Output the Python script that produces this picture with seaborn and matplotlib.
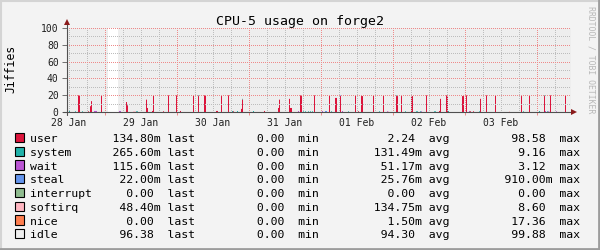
import numpy as np
import pandas as pd
import matplotlib
matplotlib.use("Agg")
import matplotlib.pyplot as plt
import seaborn as sns
from matplotlib.patches import Rectangle
from matplotlib.lines import Line2D

title = "CPU-5 usage on forge2"
y_label = "Jiffies"
watermark = "RRDTOOL / TOBI OETIKER"

series = ["user", "system", "wait", "steal", "interrupt", "softirq", "nice", "idle"]
series_colors = ["#DC143C", "#20B2AA", "#BA55D3", "#6495ED", "#8FBC8F",
                 "#FFB6C1", "#FF7F50", "#EEEEEE"]

day_hours = [0, 24, 48, 72, 96, 120, 144]
day_labels = ["28 Jan", "29 Jan", "30 Jan", "31 Jan", "01 Feb", "02 Feb", "03 Feb"]
y_ticks = [0, 20, 40, 60, 80, 100]

# spike times: hours after 28 Jan 00:00 ; values: jiffies
user_t = [3.10, 3.43, 6.43, 7.10, 7.43, 10.77, 19.10, 19.43, 25.77, 26.10,
          27.77, 28.10, 31.43, 33.10, 35.77, 37.10, 41.43, 43.10, 45.10, 45.43,
          49.10, 49.43, 50.77, 53.10, 54.77, 57.43, 57.77, 65.10, 69.77, 70.10,
          73.43, 73.77, 74.10, 77.10, 77.43, 81.77, 86.77, 88.77, 89.10,
          90.43, 95.43, 96.43, 97.43, 97.77, 101.43, 104.77, 109.10, 109.43, 110.77, 114.10,
          114.43, 119.10, 123.43, 123.77, 125.77, 126.10, 131.10, 131.43, 132.43, 133.77,
          134.77, 137.10, 139.10, 142.10, 150.77, 153.43, 158.43, 160.43, 165.43]
user_v = [20, 20, 1, 7, 13, 20, 12, 8, 15, 5,
          1.5, 20, 1, 20, 20, 1.5, 20, 19, 20, 20,
          1.5, 1.5, 19, 20, 1, 4, 15, 1.5, 5, 15,
          16, 5, 5, 20, 20, 20, 20, 17, 17,
          19, 20, 1, 19, 19, 20, 20, 19, 19, 19, 19,
          19, 20, 1.5, 16, 20, 20, 19, 19, 20, 1,
          1, 16, 20, 20, 19, 20, 19, 20, 20]

system_t = [0.10, 2.10, 4.43, 19.43, 22.43, 22.77, 43.10, 50.77, 54.43, 56.10,
            57.77, 61.43, 78.10, 78.77, 79.77, 80.43, 81.10, 87.43, 93.10, 97.43,
            103.43, 109.10, 112.10, 115.77, 116.10, 117.10, 121.77, 122.10, 126.43, 136.77,
            150.77, 151.43, 156.77, 158.43, 159.43]
system_v = [1.2, 1, 1, 1, 1, 1, 1, 1, 1.2, 1.2,
            1, 1.2, 1, 1, 1, 1, 1, 1, 1, 1,
            1, 1, 1, 1, 1, 1, 1, 1, 1.2, 1,
            1, 1, 1.2, 1, 1]

wait_t = [8.43, 8.77, 9.10, 16.77, 17.10, 76.43, 84.43, 91.10, 106.10, 117.43, 133.43,
          158.77, 159.77, 162.43]
wait_v = [1.5, 1.5, 1.5, 1.5, 1.5, 1.2, 1.2, 1.2, 1, 1, 1.5, 1.2, 1, 1]

steal_t = [85.43, 85.77, 90.43, 110.77]
steal_v = [1.2, 1.2, 1, 1]

interrupt_t = []
interrupt_v = []

softirq_t = [21.43, 21.77, 22.10, 106.43, 146.77, 160.10]
softirq_v = [1, 1, 1, 1, 1, 1]

nice_t = []
nice_v = []

gap_hours = (13.1, 16.43)   # window with no data (unknown)

# legend statistics (jiffies)
stat_last = [0.1348, 0.2656, 0.1156, 0.022, 0.0, 0.0484, 0.0, 96.38]
stat_min = [0.0, 0.0, 0.0, 0.0, 0.0, 0.0, 0.0, 0.0]
stat_avg = [2.24, 0.13149, 0.05117, 0.02576, 0.0, 0.13475, 0.0015, 94.30]
stat_max = [98.58, 9.16, 3.12, 0.91, 0.0, 8.60, 17.36, 99.88]

# ------------------------------------------------------------------
sns.set_theme(style="white")
plt.rcParams["font.family"] = ["DejaVu Sans Mono"]

W, H = 600, 250
fig = plt.figure(figsize=(6, 2.5), dpi=100, facecolor="#F3F3F3")


def fx(px):
    return px / W


def fy(py):
    return 1 - py / H


ax = fig.add_axes([fx(67), fy(112), fx(504), 84 / H])
ax.set_facecolor("white")

# one bin per pixel column (20 minutes)
edges = [k / 3 - 0.6 for k in range(505)]
edges_arr = np.array(edges)
centers = (edges_arr[:-1] + edges_arr[1:]) / 2

spikes = {"user": (user_t, user_v), "system": (system_t, system_v),
          "wait": (wait_t, wait_v), "steal": (steal_t, steal_v),
          "interrupt": (interrupt_t, interrupt_v), "softirq": (softirq_t, softirq_v),
          "nice": (nice_t, nice_v)}

rows = []
for name, (ts, vs) in spikes.items():
    for t, v in zip(ts, vs):
        rows.append((t, name, v))
busy_t = [r[0] for r in rows]
busy_v = [r[2] for r in rows]
busy = np.histogram(busy_t, bins=edges_arr, weights=busy_v)[0]
known = ~((centers > gap_hours[0]) & (centers < gap_hours[1]))
for c, b, ok in zip(centers, busy, known):
    if ok:
        rows.append((c, "idle", 100 - b))
df = pd.DataFrame(rows, columns=["t", "series", "value"])

palette = dict(zip(series, series_colors))
present = [s for s in series if s in set(df["series"])]
sns.histplot(data=df, x="t", weights="value", hue="series",
             hue_order=present[::-1], palette=palette, multiple="stack",
             bins=edges, element="step", fill=True, linewidth=0, alpha=1,
             legend=False, ax=ax)
for coll in ax.collections:
    coll.set_edgecolor("none")

ax.set_xlim(edges[0], edges[-1])
ax.set_ylim(0, 100)
ax.set_xlabel("")
ax.set_ylabel("")
for sp in ax.spines.values():
    sp.set_visible(False)

# grid (drawn above data as in rrdtool)
red = "#EE8A8A"
gray = "#BDBDBD"
dot = (0.5, (1, 1))
for d in day_hours:
    for off in (0, 6, 18):
        ax.axvline(d + off, color=gray, lw=0.72, ls=dot, zorder=5)
    ax.axvline(d + 12, color=red, lw=0.72, ls=dot, zorder=6)
for v in range(10, 100, 20):
    ax.axhline(v, color=gray, lw=0.72, ls=dot, zorder=5)
for v in y_ticks[1:]:
    ax.axhline(v, color=red, lw=0.72, ls=dot, zorder=6)

ax.set_yticks(y_ticks)
ax.set_yticklabels([str(v) for v in y_ticks])
ax.set_xticks(day_hours)
ax.set_xticklabels(day_labels)
ax.set_xticks([d + 12 for d in day_hours], minor=True)
ax.tick_params(axis="y", left=True, length=3.5, width=0.7, color="#707070",
               pad=2.5, labelsize=7, labelcolor="#202020")
ax.tick_params(axis="x", which="major", bottom=False, length=0, pad=4,
               labelsize=7, labelcolor="#202020")
ax.tick_params(axis="x", which="minor", bottom=True, length=2.5, width=0.7,
               color="#EE8A8A")
ax.grid(False)

# axes with arrows
axis_col = "#505050"
arrow_col = "#8B1A1A"
ax.plot([0, 0], [-0.03, 1.06], transform=ax.transAxes, color=axis_col,
        lw=0.8, clip_on=False, zorder=8)
ax.plot([0], [1.07], transform=ax.transAxes, marker="^", ms=4.5,
        color=arrow_col, clip_on=False, zorder=9, mew=0)
ax.plot([-0.008, 1.0], [0, 0], transform=ax.transAxes, color=axis_col,
        lw=0.8, clip_on=False, zorder=8)
ax.plot([1.006], [0], transform=ax.transAxes, marker=">", ms=4.5,
        color=arrow_col, clip_on=False, zorder=9, mew=0)

# texts
fig.text(0.5, fy(21), title, ha="center", va="center", fontsize=9.5,
         color="#000000")
fig.text(fx(11), fy(69), y_label, ha="center", va="center", rotation=90,
         fontsize=8.3, color="#000000")
fig.text(fx(590.5), fy(60), watermark, ha="center", va="center",
         rotation=270, fontsize=5.9, color="#B8B8B8")


def si(v):
    if v != 0 and abs(v) < 1:
        return f"{v * 1000:6.2f}m"
    return f"{v:6.2f} "


for i, name in enumerate(series):
    base = 142.3 + 13.71 * i
    fig.patches.append(Rectangle((fx(15), fy(base)), fx(9.3), 9.3 / H,
                                 transform=fig.transFigure,
                                 facecolor=series_colors[i], edgecolor="black",
                                 lw=0.8))
    line = (f"{name:<12}{si(stat_last[i])} last       {si(stat_min[i])} min"
            f"        {si(stat_avg[i])} avg        {si(stat_max[i])} max")
    fig.text(fx(30), fy(base), line, ha="left", va="baseline",
             fontsize=8.25, color="#000000")

# frame
fig.add_artist(Line2D([0, 1], [1 - 0.5 / H, 1 - 0.5 / H], transform=fig.transFigure,
                      color="#D4D4D4", lw=1.5))
fig.add_artist(Line2D([0.5 / W, 0.5 / W], [0, 1], transform=fig.transFigure,
                      color="#D4D4D4", lw=1.5))
fig.add_artist(Line2D([0, 1], [1 / H, 1 / H], transform=fig.transFigure,
                      color="#9C9C9C", lw=2))
fig.add_artist(Line2D([1 - 1 / W, 1 - 1 / W], [0, 1], transform=fig.transFigure,
                      color="#9C9C9C", lw=2))

fig.savefig("out.png", dpi=100, facecolor=fig.get_facecolor())
